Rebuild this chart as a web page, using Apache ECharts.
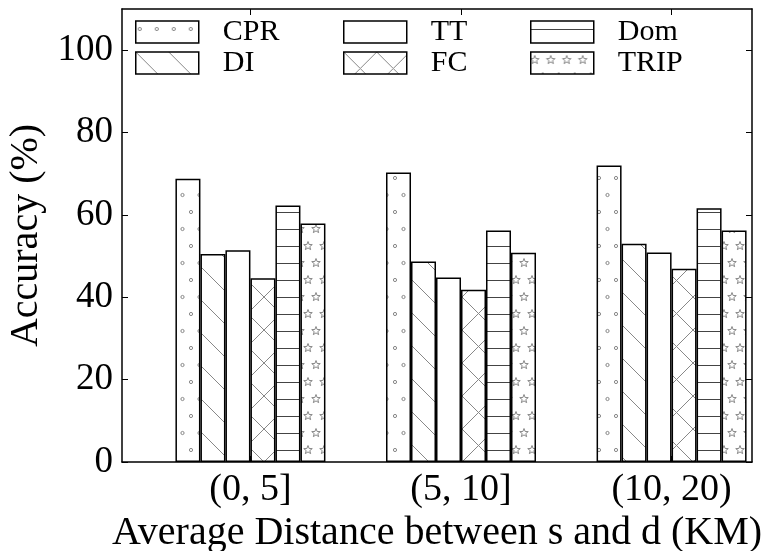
<!DOCTYPE html>
<html>
<head>
<meta charset="utf-8">
<script src="https://cdn.jsdelivr.net/npm/echarts@6/dist/echarts.min.js"></script>
<style>
  html, body { margin: 0; padding: 0; background: #fff; }
  #chart { width: 763px; height: 551px; }
</style>
</head>
<body>
<div id="chart"></div>
<script>
const categories = ['(0, 5]', '(5, 10]', '(10, 20)']
const CPR = [68.8, 70.3, 72.0]
const DI = [50.5, 48.7, 53.0]
const TT = [51.4, 44.8, 50.9]
const FC = [44.6, 41.8, 46.9]
const Dom = [62.3, 56.2, 61.6]
const TRIP = [57.9, 50.8, 56.2]
const yTicks = [0, 20, 40, 60, 80, 100]

const FONT = 'Liberation Serif'

// canvas tiles for the fill patterns
function tile(w, h, draw) {
  const c = document.createElement('canvas')
  c.width = w
  c.height = h
  const ctx = c.getContext('2d')
  ctx.fillStyle = '#fff'
  ctx.fillRect(0, 0, w, h)
  ctx.strokeStyle = '#888'
  ctx.lineWidth = 1
  draw(ctx)
  return { image: c, repeat: 'repeat' }
}

function star(ctx, cx, cy, r) {
  ctx.beginPath()
  for (let i = 0; i < 10; i++) {
    const rr = i % 2 ? r * 0.42 : r
    const a = -Math.PI / 2 + i * Math.PI / 5
    const x = cx + rr * Math.cos(a)
    const y = cy + rr * Math.sin(a)
    i ? ctx.lineTo(x, y) : ctx.moveTo(x, y)
  }
  ctx.closePath()
  ctx.stroke()
}

const patterns = {
  CPR: tile(17, 34, ctx => {
    ctx.beginPath(); ctx.arc(4, 8, 1.6, 0, Math.PI * 2); ctx.stroke()
    ctx.beginPath(); ctx.arc(12.5, 25, 1.6, 0, Math.PI * 2); ctx.stroke()
  }),
  DI: tile(33, 33, ctx => {
    ctx.beginPath()
    ctx.moveTo(-2, -2); ctx.lineTo(35, 35)
    ctx.stroke()
  }),
  TT: '#fff',
  FC: tile(33, 33, ctx => {
    ctx.beginPath()
    ctx.moveTo(-2, -2); ctx.lineTo(35, 35)
    ctx.moveTo(35, -2); ctx.lineTo(-2, 35)
    ctx.stroke()
  }),
  Dom: tile(20, 17, ctx => {
    ctx.strokeStyle = '#444'
    ctx.beginPath()
    ctx.moveTo(0, 8.5); ctx.lineTo(20, 8.5)
    ctx.stroke()
  }),
  TRIP: tile(16, 34, ctx => {
    star(ctx, 4, 8, 4.5)
    star(ctx, 12, 25, 4.5)
    star(ctx, 20, 8, 4.5)
    star(ctx, -4, 25, 4.5)
  })
}

const seriesData = { CPR, DI, TT, FC, Dom, TRIP }
const names = ['CPR', 'DI', 'TT', 'FC', 'Dom', 'TRIP']

const xMin = -0.61
const xMax = 2.382

function legendCol(data, left) {
  return {
    data: data,
    orient: 'vertical',
    left: left,
    top: 17,
    padding: 0,
    icon: 'rect',
    itemWidth: 63,
    itemHeight: 22,
    itemGap: 1,
    selectedMode: false,
    itemStyle: { borderColor: '#000', borderWidth: 1.5 },
    textStyle: { fontFamily: FONT, fontSize: 30, color: '#000', padding: [0, 0, 0, 19] }
  }
}

function frameLine() {
  return { show: true, onZero: false, lineStyle: { color: '#000', width: 1.5 } }
}

const chart = echarts.init(document.getElementById('chart'))
chart.setOption({
  animation: false,
  backgroundColor: '#fff',
  legend: [
    legendCol(['CPR', 'DI'], 135),
    legendCol(['TT', 'FC'], 343),
    legendCol(['Dom', 'TRIP'], 530)
  ],
  grid: { left: 122, top: 9, width: 630, height: 453, outerBoundsMode: 'none', containLabel: false },
  xAxis: [
    {
      type: 'value',
      min: xMin,
      max: xMax,
      position: 'bottom',
      splitLine: { show: false },
      axisLine: frameLine(),
      axisTick: { show: true, inside: true, length: 6, customValues: [0, 1, 2], lineStyle: { color: '#000' } },
      axisLabel: {
        customValues: [0, 1, 2],
        formatter: v => categories[Math.round(v)],
        fontFamily: FONT, fontSize: 38, color: '#000', margin: 9
      },
      name: 'Average Distance between s and d (KM)',
      nameLocation: 'middle',
      nameGap: 49,
      nameTextStyle: { fontFamily: FONT, fontSize: 40, color: '#000' }
    },
    {
      type: 'value',
      min: xMin,
      max: xMax,
      position: 'top',
      splitLine: { show: false },
      axisLine: frameLine(),
      axisTick: { show: true, inside: true, length: 6, customValues: [0, 1, 2], lineStyle: { color: '#000' } },
      axisLabel: { show: false }
    }
  ],
  yAxis: [
    {
      type: 'value',
      min: 0,
      max: 110,
      position: 'left',
      splitLine: { show: false },
      axisLine: frameLine(),
      axisTick: { show: true, inside: true, length: 6, customValues: yTicks, lineStyle: { color: '#000' } },
      axisLabel: { customValues: yTicks, fontFamily: FONT, fontSize: 37, color: '#000', margin: 9 },
      name: 'Accuracy (%)',
      nameLocation: 'middle',
      nameGap: 70,
      nameTextStyle: { fontFamily: FONT, fontSize: 40, color: '#000' }
    },
    {
      type: 'value',
      min: 0,
      max: 110,
      position: 'right',
      splitLine: { show: false },
      axisLine: frameLine(),
      axisTick: { show: true, inside: true, length: 6, customValues: yTicks, lineStyle: { color: '#000' } },
      axisLabel: { show: false }
    }
  ],
  series: names.map(n => ({
    name: n,
    type: 'bar',
    xAxisIndex: 0,
    yAxisIndex: 0,
    barWidth: 25,
    barGap: '0%',
    data: seriesData[n].map((v, i) => [i, v]),
    itemStyle: { color: patterns[n], borderColor: '#000', borderWidth: 1.5 }
  }))
})
</script>
</body>
</html>
